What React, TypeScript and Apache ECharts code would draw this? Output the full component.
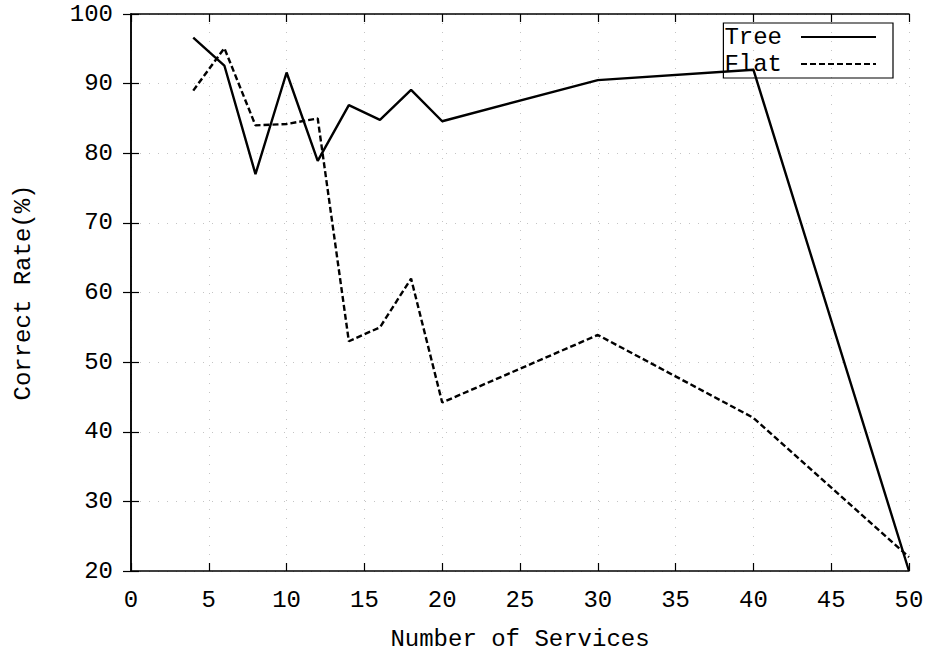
import React, { useEffect, useRef } from "react";
import * as echarts from "echarts";

const xValues = [4, 6, 8, 10, 12, 14, 16, 18, 20, 30, 40, 50];
const treeValues = [96.6, 92.6, 77, 91.6, 78.9, 86.9, 84.8, 89.1, 84.6, 90.5, 92, 20];
const flatValues = [89, 95.1, 84, 84.2, 85, 53, 55, 62, 44.2, 53.9, 42, 22];
const seriesNames = ["Tree", "Flat"];
const xAxisTitle = "Number of Services";
const yAxisTitle = "Correct Rate(%)";

const FONT = "'Liberation Mono', 'DejaVu Sans Mono', monospace";

export default function App() {
  const ref = useRef<HTMLDivElement>(null);
  useEffect(() => {
    if (!ref.current) return;
    const chart = echarts.init(ref.current, undefined, { renderer: "svg" });
    const axisLine = { show: true, lineStyle: { color: "#000", width: 1.5 } };
    const tick = { show: true, inside: true, length: 8, lineStyle: { color: "#000", width: 1.2 } };
    const grid = { show: true, lineStyle: { color: "#c4c4c4", type: [1, 8], width: 1 } };
    const label = { color: "#000", fontFamily: FONT, fontSize: 24 };
    const pair = (ys: number[]) => xValues.map((x, i) => [x, ys[i]]);
    chart.setOption({
      animation: false,
      backgroundColor: "#fff",
      textStyle: { fontFamily: FONT },
      grid: { left: 131, right: 26, top: 14, bottom: 82, containLabel: false },
      legend: {
        data: seriesNames,
        orient: "vertical",
        right: 42,
        top: 23,
        align: "right",
        itemWidth: 75,
        itemHeight: 24,
        itemGap: 3,
        padding: [2, 16, 2, 1],
        borderColor: "#000",
        borderWidth: 1.2,
        itemStyle: { opacity: 0, borderWidth: 0 },
        textStyle: { color: "#000", fontFamily: FONT, fontSize: 24, lineHeight: 24, padding: [0, 14, 0, 0] },
      },
      xAxis: [
        {
          type: "value",
          min: 0,
          max: 50,
          interval: 5,
          name: xAxisTitle,
          nameLocation: "middle",
          nameGap: 56,
          nameTextStyle: { color: "#000", fontFamily: FONT, fontSize: 24 },
          axisLine,
          axisTick: tick,
          axisLabel: { ...label, margin: 17 },
          splitLine: grid,
        },
        {
          type: "value",
          position: "top",
          min: 0,
          max: 50,
          interval: 5,
          axisLine,
          axisTick: tick,
          axisLabel: { show: false },
          splitLine: { show: false },
        },
      ],
      yAxis: [
        {
          type: "value",
          min: 20,
          max: 100,
          interval: 10,
          name: yAxisTitle,
          nameLocation: "middle",
          nameGap: 96,
          nameRotate: 90,
          nameTextStyle: { color: "#000", fontFamily: FONT, fontSize: 24 },
          axisLine,
          axisTick: tick,
          axisLabel: { ...label, margin: 18 },
          splitLine: grid,
        },
        {
          type: "value",
          position: "right",
          min: 20,
          max: 100,
          interval: 10,
          axisLine,
          axisTick: tick,
          axisLabel: { show: false },
          splitLine: { show: false },
        },
      ],
      series: [
        {
          name: seriesNames[0],
          type: "line",
          data: pair(treeValues),
          symbol: "none",
          lineStyle: { color: "#000", width: 2.4, type: "solid" },
          itemStyle: { color: "#000" },
        },
        {
          name: seriesNames[1],
          type: "line",
          data: pair(flatValues),
          symbol: "none",
          lineStyle: { color: "#000", width: 2.4, type: [6, 3] },
          itemStyle: { color: "#000" },
        },
      ],
    });
    return () => chart.dispose();
  }, []);
  return (
    <div
      ref={ref}
      style={{ position: "absolute", left: 0, top: 0, width: 935, height: 656, background: "#fff" }}
    />
  );
}
